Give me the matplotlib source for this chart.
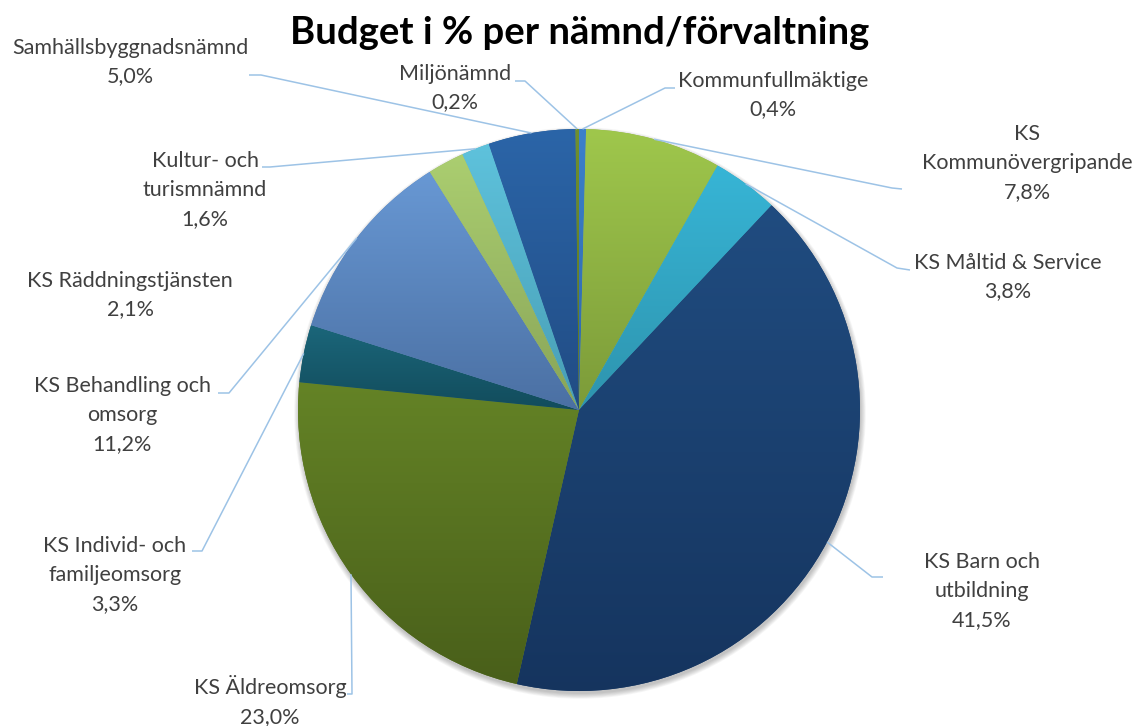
import numpy as np
import matplotlib
matplotlib.use("Agg")
import matplotlib.pyplot as plt
from matplotlib.colors import to_rgb
from matplotlib.patches import Circle

W, H = 1132, 726

# ---- data ----
names = ["Kommunfullmäktige", "KS\nKommunövergripande", "KS Måltid & Service",
         "KS Barn och\nutbildning", "KS Äldreomsorg", "KS Individ- och\nfamiljeomsorg",
         "KS Behandling och\nomsorg", "KS Räddningstjänsten", "Kultur- och\nturismnämnd",
         "Samhällsbyggnadsnämnd", "Miljönämnd"]
shares = [0.4, 7.8, 3.8, 41.5, 23.0, 3.3, 11.2, 2.1, 1.6, 5.0, 0.2]

# Excel-style gradient fills: colour at the top / bottom of each slice
top_colors = ["#3c80cc", "#9fc74c", "#37b5d6", "#204c80", "#648326", "#1b667a",
              "#6898d4", "#abce70", "#5ec2dc", "#2b65a8", "#6f902f"]
bot_colors = ["#2f68a8", "#7c9b39", "#2e94ae", "#15345e", "#495f1a", "#124c5c",
              "#4b70a3", "#88a458", "#489eb5", "#214c84", "#5a7424"]

# ---- layout (pixel coords, y measured from the top) ----
CX, CY, R = 579, 410, 281
label_xy = [(773, 95), (1027, 163), (1008, 277), (982, 591), (270, 701), (115, 575),
            (122, 415), (130, 295), (205, 190), (130, 62), (455, 88)]
# leader: (label-side end, elbow) -> then straight to the slice mid-arc
leaders = [((675, 88), (665, 88)), ((902, 189), (892, 188)), ((910, 270), (897, 268)),
           ((883, 577), (872, 577)), ((347, 694), (352, 694)), ((192, 551), (202, 551)),
           ((218, 393), (229, 393)), None, ((262, 167), (270, 167)),
           ((249, 75), (261, 75)), ((515, 81), (525, 81))]

LEAD = "#9dc3e6"
TXT = "#404040"
FONT = "Lato"


def fy(y):
    return H - y


fig = plt.figure(figsize=(W / 100, H / 100), dpi=100)
ax = fig.add_axes([0, 0, 1, 1])

# soft drop shadow under the pie
for k in range(7):
    ax.add_patch(Circle((CX + 1, fy(CY) - 3), R + 0.8 * k, color="k",
                        alpha=0.035, lw=0, zorder=0.5))

mid_cols = [tuple((np.array(to_rgb(t)) + np.array(to_rgb(b))) / 2)
            for t, b in zip(top_colors, bot_colors)]
wedges, _ = ax.pie(shares, colors=mid_cols, startangle=90, counterclock=False,
                   center=(CX, fy(CY)), radius=R,
                   wedgeprops=dict(linewidth=0, zorder=1))

for w, ct, cb in zip(wedges, top_colors, bot_colors):
    v = w.get_path().vertices
    x0, y0 = v.min(axis=0)
    x1, y1 = v.max(axis=0)
    t = np.linspace(0, 1, 128)[:, None]
    grad = (1 - t) * np.array(to_rgb(cb)) + t * np.array(to_rgb(ct))
    im = ax.imshow(grad[:, None, :], extent=(x0, x1, y0, y1), origin="lower",
                   aspect="auto", interpolation="bilinear", zorder=2)
    im.set_clip_path(w)

for w, name, val, (lx, ly), lead in zip(wedges, names, shares, label_xy, leaders):
    txt = f"{name}\n{val:.1f}%".replace(".", ",")
    ax.text(lx, fy(ly), txt, ha="center", va="center", multialignment="center",
            fontsize=15.5, color=TXT, family=FONT, linespacing=1.55, zorder=5)
    if lead is None:
        continue
    ang = np.deg2rad((w.theta1 + w.theta2) / 2)
    px = w.center[0] + w.r * np.cos(ang)
    py = w.center[1] + w.r * np.sin(ang)
    (sx, sy), (ex, ey) = lead
    ax.plot([sx, ex, px], [fy(sy), fy(ey), py], color=LEAD, lw=1.1,
            solid_capstyle="butt", zorder=3)

ax.text(W / 2 + 14, fy(33), "Budget i % per nämnd/förvaltning", ha="center",
        va="center", fontsize=27.5, fontweight="bold", family=FONT, color="black")

ax.set_xlim(0, W)
ax.set_ylim(0, H)
ax.set_aspect("equal")
ax.axis("off")
fig.savefig("out.png", dpi=100, facecolor="white")
